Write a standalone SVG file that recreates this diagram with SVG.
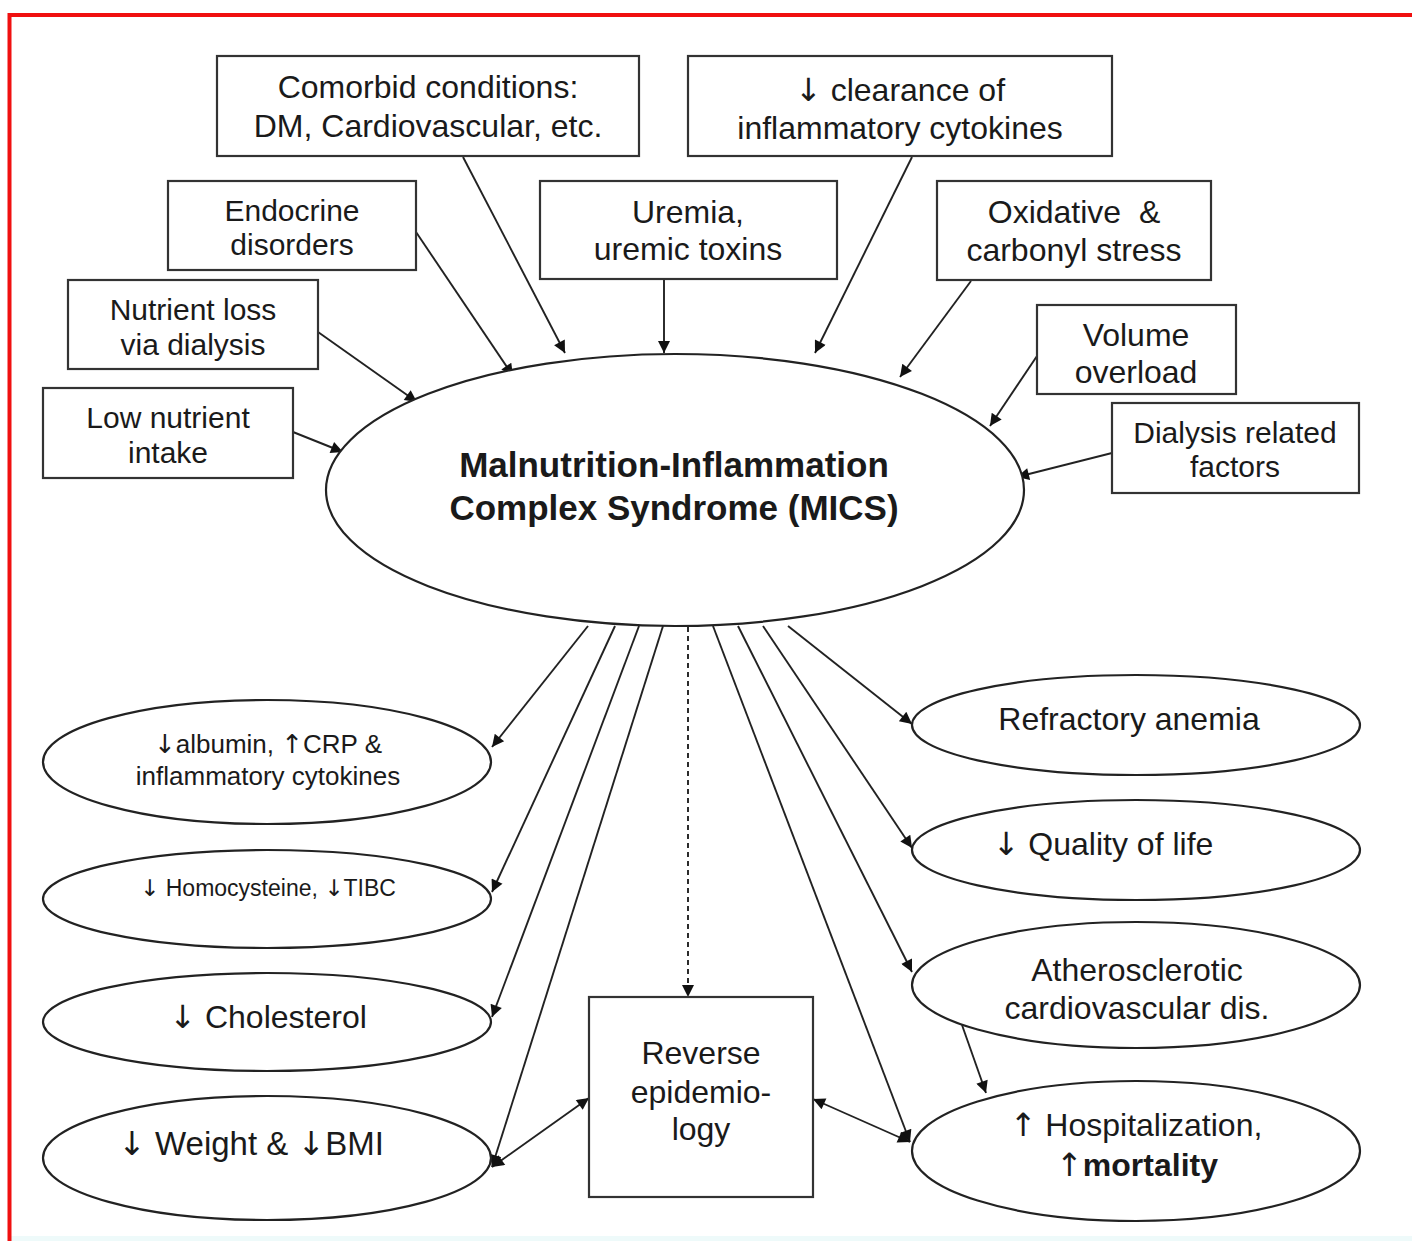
<svg xmlns="http://www.w3.org/2000/svg" width="1412" height="1241" viewBox="0 0 1412 1241">
  <defs>
    <marker id="ah" viewBox="0 0 10 10" refX="10" refY="5" markerWidth="16" markerHeight="12" markerUnits="userSpaceOnUse" orient="auto-start-reverse">
      <path d="M0,0 L10,5 L0,10 Z" fill="#111"/>
    </marker>
  </defs>
  <style>
    .box { fill: #fff; stroke: #333; stroke-width: 2.2; }
    .ell { fill: #fff; stroke: #222; stroke-width: 2.2; }
    .t { font-family: "Liberation Sans", Arial, sans-serif; fill: #1a1a1a; text-anchor: middle; }
    .ar { font-family: "DejaVu Sans", sans-serif; font-weight: normal; }
    .c { fill: none; stroke: #222; stroke-width: 1.9; }
    .a { marker-end: url(#ah); }
    .b { marker-start: url(#ah); marker-end: url(#ah); }
    .d { stroke-dasharray: 5 4; }
  </style>
  <rect x="0" y="0" width="1412" height="1241" fill="#fff"/>
  <rect x="10" y="1236" width="1402" height="5" fill="#eefafa"/>
  <rect x="9.5" y="15" width="1500" height="1500" fill="none" stroke="#f01010" stroke-width="4"/>

  <g id="connectors">
    <line class="c a" x1="293" y1="432" x2="343" y2="452"/>
    <line class="c a" x1="318" y1="332" x2="417" y2="402"/>
    <line class="c a" x1="416" y1="232" x2="513" y2="376"/>
    <line class="c a" x1="463" y1="157" x2="565" y2="353"/>
    <line class="c a" x1="664" y1="280" x2="664" y2="353"/>
    <line class="c a" x1="912" y1="157" x2="815" y2="353"/>
    <line class="c a" x1="971" y1="281" x2="900" y2="377"/>
    <line class="c a" x1="1037" y1="356" x2="990" y2="426"/>
    <line class="c a" x1="1112" y1="453" x2="1017" y2="477"/>

    <line class="c a" x1="588" y1="626" x2="492" y2="747"/>
    <line class="c a" x1="615" y1="626" x2="492" y2="892"/>
    <line class="c a" x1="639" y1="626" x2="492" y2="1017"/>
    <line class="c a" x1="663" y1="626" x2="492" y2="1167"/>
    <line class="c a d" x1="688" y1="627" x2="688" y2="997"/>
    <line class="c a" x1="713" y1="626" x2="910" y2="1142"/>
    <line class="c a" x1="738" y1="626" x2="912" y2="972"/>
    <line class="c a" x1="763" y1="626" x2="912" y2="848"/>
    <line class="c a" x1="788" y1="626" x2="912" y2="724"/>

    <line class="c a" x1="962" y1="1025" x2="986" y2="1093"/>
    <line class="c b" x1="492" y1="1167" x2="589" y2="1098"/>
    <line class="c b" x1="910" y1="1142" x2="813" y2="1099"/>
  </g>

  <g id="comorbid">
    <rect class="box" x="217" y="56" width="422" height="100"/>
    <text class="t" font-size="32" x="428" y="98">Comorbid conditions:</text>
    <text class="t" font-size="32" x="428" y="137">DM, Cardiovascular, etc.</text>
  </g>
  <g id="clearance">
    <rect class="box" x="688" y="56" width="424" height="100"/>
    <text class="t" font-size="32" x="900" y="101"><tspan class="ar">↓</tspan> clearance of</text>
    <text class="t" font-size="32" x="900" y="139">inflammatory cytokines</text>
  </g>
  <g id="endocrine">
    <rect class="box" x="168" y="181" width="248" height="89"/>
    <text class="t" font-size="30" x="292" y="221">Endocrine</text>
    <text class="t" font-size="30" x="292" y="255">disorders</text>
  </g>
  <g id="uremia">
    <rect class="box" x="540" y="181" width="297" height="98"/>
    <text class="t" font-size="32" x="688" y="223">Uremia,</text>
    <text class="t" font-size="32" x="688" y="260">uremic toxins</text>
  </g>
  <g id="oxidative">
    <rect class="box" x="937" y="181" width="274" height="99"/>
    <text class="t" font-size="32" x="1074" y="223" xml:space="preserve">Oxidative  &amp;</text>
    <text class="t" font-size="32" x="1074" y="261">carbonyl stress</text>
  </g>
  <g id="nutrient-loss">
    <rect class="box" x="68" y="280" width="250" height="89"/>
    <text class="t" font-size="30" x="193" y="320">Nutrient loss</text>
    <text class="t" font-size="30" x="193" y="355">via dialysis</text>
  </g>
  <g id="volume">
    <rect class="box" x="1037" y="305" width="199" height="89"/>
    <text class="t" font-size="32" x="1136" y="346">Volume</text>
    <text class="t" font-size="32" x="1136" y="383">overload</text>
  </g>
  <g id="low-intake">
    <rect class="box" x="43" y="388" width="250" height="90"/>
    <text class="t" font-size="30" x="168" y="428">Low nutrient</text>
    <text class="t" font-size="30" x="168" y="463">intake</text>
  </g>
  <g id="dialysis">
    <rect class="box" x="1112" y="403" width="247" height="90"/>
    <text class="t" font-size="30" x="1235" y="443">Dialysis related</text>
    <text class="t" font-size="30" x="1235" y="477">factors</text>
  </g>

  <g id="mics">
    <ellipse class="ell" cx="675" cy="490" rx="349" ry="136"/>
    <text class="t" font-size="35" font-weight="bold" x="674" y="477">Malnutrition-Inflammation</text>
    <text class="t" font-size="35" font-weight="bold" x="674" y="520">Complex Syndrome (MICS)</text>
  </g>

  <g id="albumin">
    <ellipse class="ell" cx="267" cy="762" rx="224" ry="62"/>
    <text class="t" font-size="26" x="268" y="753"><tspan class="ar">↓</tspan>albumin, <tspan class="ar">↑</tspan>CRP &amp;</text>
    <text class="t" font-size="26" x="268" y="785">inflammatory cytokines</text>
  </g>
  <g id="homocysteine">
    <ellipse class="ell" cx="267" cy="899" rx="224" ry="49"/>
    <text class="t" font-size="23" x="268" y="896"><tspan class="ar">↓</tspan> Homocysteine, <tspan class="ar">↓</tspan>TIBC</text>
  </g>
  <g id="cholesterol">
    <ellipse class="ell" cx="267" cy="1022" rx="224" ry="49"/>
    <text class="t" font-size="32" x="268" y="1028"><tspan class="ar">↓</tspan> Cholesterol</text>
  </g>
  <g id="weight">
    <ellipse class="ell" cx="267" cy="1158" rx="224" ry="62"/>
    <text class="t" font-size="33" x="251" y="1155"><tspan class="ar">↓</tspan> Weight &amp; <tspan class="ar">↓</tspan>BMI</text>
  </g>

  <g id="reverse">
    <rect class="box" x="589" y="997" width="224" height="200"/>
    <text class="t" font-size="32" x="701" y="1064">Reverse</text>
    <text class="t" font-size="32" x="701" y="1103">epidemio-</text>
    <text class="t" font-size="32" x="701" y="1140">logy</text>
  </g>

  <g id="anemia">
    <ellipse class="ell" cx="1136" cy="725" rx="224" ry="50"/>
    <text class="t" font-size="32" x="1129" y="730">Refractory anemia</text>
  </g>
  <g id="quality">
    <ellipse class="ell" cx="1136" cy="850" rx="224" ry="50"/>
    <text class="t" font-size="32" x="1103" y="855"><tspan class="ar">↓</tspan> Quality of life</text>
  </g>
  <g id="athero">
    <ellipse class="ell" cx="1136" cy="985" rx="224" ry="63"/>
    <text class="t" font-size="32" x="1137" y="981">Atherosclerotic</text>
    <text class="t" font-size="32" x="1137" y="1019">cardiovascular dis.</text>
  </g>
  <g id="hospitalization">
    <ellipse class="ell" cx="1136" cy="1151" rx="224" ry="70"/>
    <text class="t" font-size="32" x="1136" y="1136"><tspan class="ar">↑</tspan> Hospitalization,</text>
    <text class="t" font-size="32" font-weight="bold" x="1137" y="1176"><tspan class="ar">↑</tspan>mortality</text>
  </g>
</svg>
